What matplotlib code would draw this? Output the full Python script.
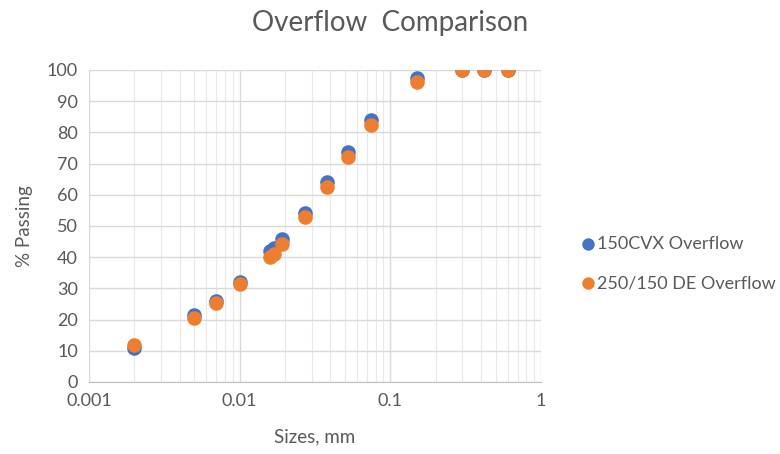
import matplotlib
matplotlib.use('Agg')
import matplotlib.pyplot as plt
from matplotlib.ticker import LogLocator, FixedLocator, NullFormatter

plt.rcParams['font.family'] = ['Lato', 'DejaVu Sans']

sizes = [0.002, 0.005, 0.007, 0.01, 0.016, 0.017, 0.019, 0.027, 0.038,
         0.052, 0.074, 0.15, 0.3, 0.42, 0.6]
cvx = [11, 21.5, 26, 32, 42, 43, 45.8, 54.3, 64, 73.8, 84, 97.5, 100, 100, 100]
de = [11.8, 20.5, 25.3, 31.3, 40, 41, 44.2, 53, 62.5, 72.2, 82.5, 96, 100, 100, 100]

TXT = '#595959'
fig = plt.figure(figsize=(7.8, 4.54), dpi=100)
ax = fig.add_axes([89 / 780, 1 - 382 / 454, 452 / 780, 312 / 454])

ax.scatter(sizes, cvx, s=110, color='#4472C4', label='150CVX Overflow',
           zorder=3, linewidths=0)
ax.scatter(sizes, de, s=110, color='#ED7D31', label='250/150 DE Overflow',
           zorder=4, linewidths=0)

ax.set_xscale('log')
ax.set_xlim(0.001, 1)
ax.set_ylim(0, 100)
ax.set_yticks(range(0, 101, 10))
ax.xaxis.set_major_locator(FixedLocator([0.001, 0.01, 0.1, 1]))
ax.set_xticklabels(['0.001', '0.01', '0.1', '1'])
ax.xaxis.set_minor_locator(LogLocator(base=10, subs=range(2, 10)))
ax.xaxis.set_minor_formatter(NullFormatter())
ax.grid(True, which='major', color='#d9d9d9', lw=1)
ax.grid(True, which='minor', axis='x', color='#e8e8e8', lw=0.8)
ax.set_axisbelow(True)
for s in ['top', 'right', 'left']:
    ax.spines[s].set_visible(False)
ax.spines['bottom'].set_color('#bfbfbf')
ax.tick_params(which='both', length=0, colors=TXT, labelsize=13, pad=8)

ax.set_xlabel('Sizes, mm', color=TXT, fontsize=13.5, labelpad=14)
ax.set_ylabel('% Passing', color=TXT, fontsize=13.5, labelpad=10)
fig.text(0.5, 0.95, 'Overflow  Comparison', ha='center', va='center',
         color=TXT, fontsize=20)

leg = ax.legend(loc='center left', bbox_to_anchor=(1.068, 0.38), frameon=False,
                fontsize=13, handlelength=1.0, handletextpad=0.0,
                labelspacing=1.3, markerscale=0.85, borderaxespad=0)
for t in leg.get_texts():
    t.set_color(TXT)

fig.savefig('out.png', dpi=100)
